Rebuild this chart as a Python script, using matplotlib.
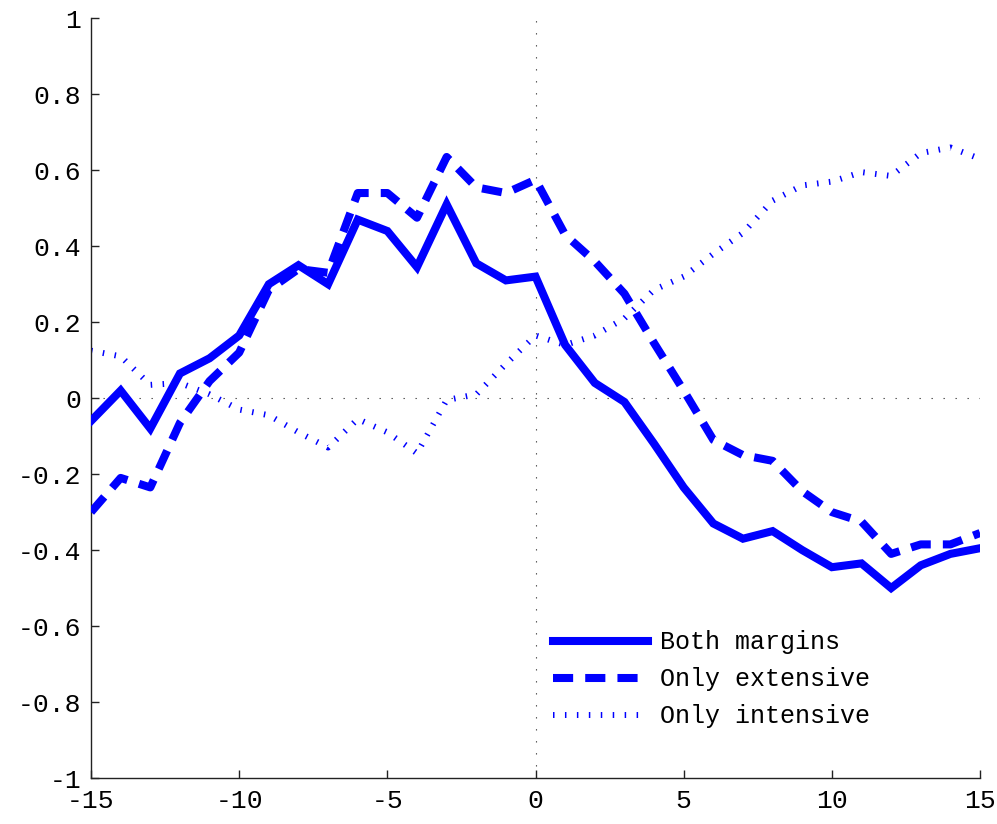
import numpy as np
import matplotlib.pyplot as plt

# --- data ---
horizon = np.arange(-15, 16)

both_margins = [-0.06, 0.02, -0.08, 0.065, 0.105, 0.165, 0.30, 0.35, 0.30, 0.47,
                0.44, 0.345, 0.51, 0.355, 0.31, 0.32, 0.14, 0.04, -0.01, -0.12,
                -0.235, -0.33, -0.37, -0.35, -0.40, -0.445, -0.435, -0.50, -0.44,
                -0.41, -0.395]

only_extensive = [-0.30, -0.21, -0.235, -0.065, 0.045, 0.12, 0.285, 0.34, 0.33, 0.54,
                  0.54, 0.475, 0.635, 0.555, 0.54, 0.575, 0.43, 0.36, 0.275, 0.145,
                  0.02, -0.11, -0.15, -0.165, -0.245, -0.30, -0.325, -0.41, -0.385,
                  -0.385, -0.355]

only_intensive = [0.125, 0.11, 0.035, 0.04, 0.01, -0.03, -0.045, -0.09, -0.13, -0.055,
                  -0.09, -0.145, -0.005, 0.01, 0.09, 0.165, 0.14, 0.165, 0.21, 0.285,
                  0.32, 0.38, 0.435, 0.52, 0.56, 0.57, 0.595, 0.585, 0.645, 0.66,
                  0.63]

series_labels = ['Both margins', 'Only extensive', 'Only intensive']
xticks = [-15, -10, -5, 0, 5, 10, 15]
yticks = [-1, -0.8, -0.6, -0.4, -0.2, 0, 0.2, 0.4, 0.6, 0.8, 1]
ytick_labels = ['-1', '-0.8', '-0.6', '-0.4', '-0.2', '0', '0.2', '0.4', '0.6', '0.8', '1']

# --- style ---
plt.rcParams['font.family'] = ['Liberation Mono', 'DejaVu Sans Mono']
blue = '#0000ff'

fig = plt.figure(figsize=(9.97, 8.24), dpi=100)
ax = fig.add_axes([0.0913, 0.0558, 0.8917, 0.922])

# reference lines through the origin
zero_style = dict(color='#444444', linewidth=0.8, linestyle=(0, (1.2, 9.6)), zorder=1)
ax.axhline(0, **zero_style)
ax.axvline(0, **zero_style)

ax.plot(horizon, both_margins, color=blue, linewidth=5.8,
        solid_joinstyle='miter', label=series_labels[0], zorder=3)
ax.plot(horizon, only_extensive, color=blue, linewidth=5.8,
        linestyle=(0, (2.5, 1.5)), label=series_labels[1], zorder=3)
ax.plot(horizon, only_intensive, color=blue, linewidth=4.3,
        linestyle=(0, (0.25, 1.75)), dash_capstyle='butt',
        label=series_labels[2], zorder=2)

ax.set_xlim(-15, 15)
ax.set_ylim(-1, 1)
ax.set_xticks(xticks)
ax.set_xticklabels([str(t) for t in xticks])
ax.set_yticks(yticks)
ax.set_yticklabels(ytick_labels)

for side in ['top', 'right']:
    ax.spines[side].set_visible(False)
for side in ['left', 'bottom']:
    ax.spines[side].set_color('#222222')
    ax.spines[side].set_linewidth(1.0)

ax.tick_params(direction='in', length=6, width=1.0, colors='#222222',
               labelcolor='black', labelsize=19)
ax.tick_params(axis='y', pad=7)
ax.tick_params(axis='x', pad=8)

leg = ax.legend(loc='upper left', bbox_to_anchor=(0.555, 0.235),
                bbox_transform=fig.transFigure, frameon=False,
                fontsize=18, handlelength=3.8, handletextpad=0.48,
                labelspacing=0.52, borderpad=0, borderaxespad=0)

plt.savefig('out.png', dpi=100)
